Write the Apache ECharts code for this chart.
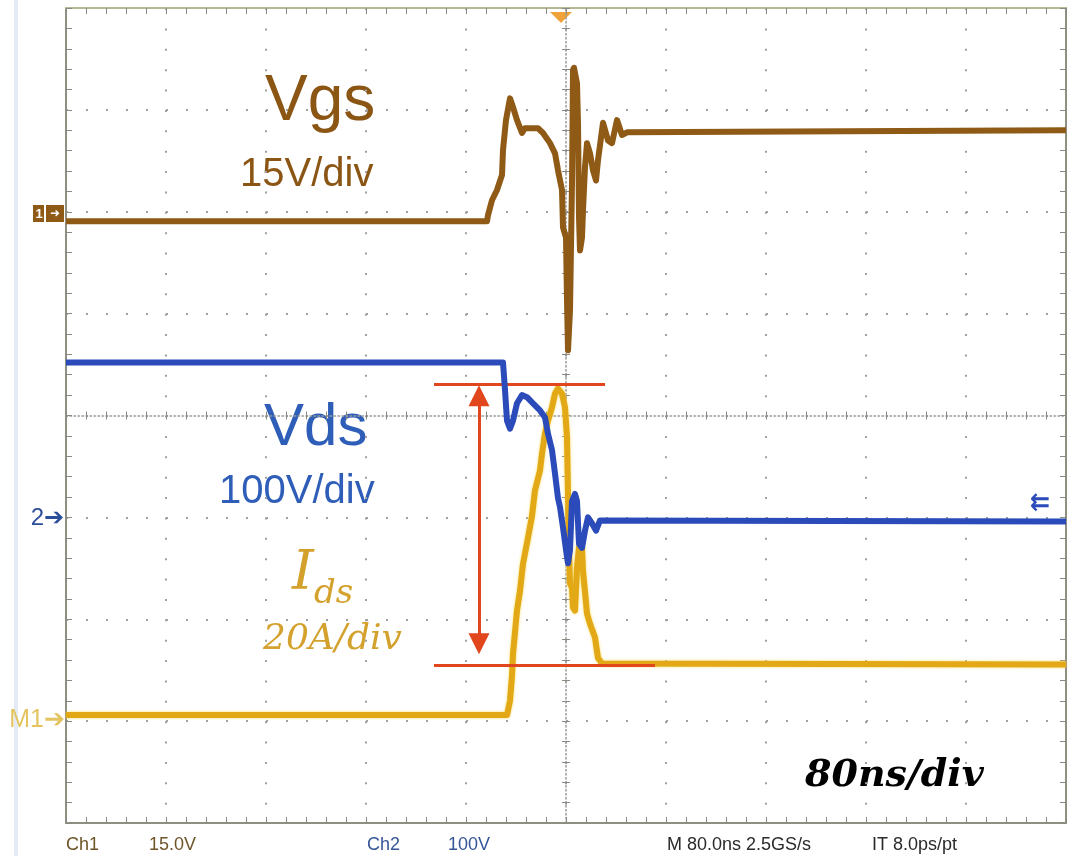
<!DOCTYPE html>
<html>
<head>
<meta charset="utf-8">
<script src="https://cdn.jsdelivr.net/npm/echarts@6/dist/echarts.min.js"></script>
<style>
html,body{margin:0;padding:0;background:#ffffff;}
#chart{width:1070px;height:856px;}
</style>
</head>
<body>
<div id="chart"></div>
<script>
// ---- time base (ns, 0 = trigger at screen centre) ----
const timeMin = -400;
const timeMax = 400;
const timePerDiv = 80;
const divMin = -4;
const divMax = 4;

// ---- channel settings: [Vgs, Vds, Ids] ----
const channelNames  = ['Vgs', 'Vds', 'Ids'];
const channelScale  = [15, 100, 20];   // units per division
const channelOffset = [2, -1, -3];     // ground marker position in divisions

// ---- Vgs (Ch1), volts ----
const vgsTime = [-400, -63.2, -62.4, -59.2, -55.2, -51.2, -50.4, -48.0, -44.8, -42.4, -39.2, -35.2, -32.8, -22.4, -18.4, -12.8, -8.8, -6.4, -3.2, -2.4, 0, 0.8, 1.6, 3.2, 4.8, 5.6, 6.4, 8.8, 9.6, 10.4, 11.2, 12.8, 13.6, 15.2, 16.8, 19.2, 21.6, 24.0, 25.6, 29.6, 33.6, 36.8, 40.8, 44.8, 48.8, 400];
const vgsVolt = [-1.4, -1.4, -0.5, 1.7, 3.2, 5.4, 9.1, 13.5, 16.7, 15.4, 13.5, 11.6, 12.3, 12.3, 11.6, 10.1, 8.6, 6.1, 3.2, -2.3, -3.8, -13.1, -20.4, -14.5, 4.2, 20.9, 21.2, 18.9, 13.1, -0.8, -5.7, -3.8, 0.2, 6.6, 10.1, 8.6, 6.1, 4.6, 7.6, 13.1, 10.5, 10.1, 13.5, 11.3, 11.7, 12.0];

// ---- Vds (Ch2), volts ----
const vdsTime = [-400, -50.4, -48.8, -47.2, -44.8, -42.4, -39.2, -35.2, -31.2, -26.4, -20.8, -16.8, -14.4, -11.2, -8.8, -6.4, -4.8, -2.4, 0.8, 1.6, 3.2, 4.8, 7.2, 8.8, 10.4, 12.8, 15.2, 17.6, 20.8, 24.0, 27.2, 400];
const vdsVolt = [152, 152, 125, 95, 87, 95, 112, 120, 118, 112, 105, 98, 82, 66, 43, 19, 10, -10, -39, -45, -32, 16, 23, 16, -26, -30, -13, 0, -6, -13, -3, -4];

// ---- Ids (M1), amperes ----
const idsTime = [-400, -47.2, -44.8, -43.2, -42.4, -39.2, -36.8, -34.4, -30.4, -27.2, -24.8, -20.8, -19.2, -16.8, -14.4, -11.2, -8.8, -6.4, -3.2, -0.8, 0.8, 2.4, 3.2, 4.8, 5.6, 7.2, 8.8, 10.4, 12.8, 13.6, 16.8, 19.2, 23.2, 25.6, 28.8, 400];
const idsAmp  = [1.2, 1.2, 4.0, 8.9, 13.2, 21.7, 25.6, 30.9, 36.0, 40.3, 45.3, 49.2, 52.5, 56.5, 59.0, 61.6, 64.3, 65.3, 64.3, 61.6, 55.7, 33.5, 27.0, 26.2, 22.3, 21.7, 30.1, 34.1, 34.1, 29.5, 21.1, 19.1, 16.4, 12.4, 11.3, 11.1];

// ---- Ids swing annotation (A, ns) ----
const spanTopLevel = 66.1;
const spanTopTime = [-105.6, 31.2];
const spanBottomLevel = 10.9;
const spanBottomTime = [-105.6, 71.2];
const spanArrowTime = -69.6;
const spanArrowEnds = [63.9, 15.2];

// ---- scope read-out texts ----
const readoutTexts = ['Ch1', '15.0V', 'Ch2', '100V', 'M 80.0ns 2.5GS/s', 'IT 8.0ps/pt'];

function toDiv(ch, v) { return channelOffset[ch] + v / channelScale[ch]; }
function buildSeries(ch, times, vals) { return times.map((t, i) => [t, toDiv(ch, vals[i])]); }

const brown = '#8E5A16';
const blue = '#2A4BB9';
const gold = '#E2A815';
const red = '#E2461C';

const tickStyle = {color: '#8a8a80', width: 1};
const baseX = {
  type: 'value', min: timeMin, max: timeMax, interval: timePerDiv,
  axisLabel: {show: false}, splitLine: {show: false},
  axisTick: {show: false}, minorTick: {show: false}, axisLine: {show: false}
};
const baseY = {
  type: 'value', min: divMin, max: divMax, interval: 1,
  axisLabel: {show: false}, splitLine: {show: false},
  axisTick: {show: false}, minorTick: {show: false}, axisLine: {show: false}
};

const option = {
  animation: false,
  backgroundColor: '#ffffff',
  grid: {left: 66, top: 8, width: 1000, height: 815, containLabel: false},
  xAxis: [
    Object.assign({}, baseX, {
      position: 'bottom',
      axisLine: {show: true, onZero: false, lineStyle: {color: '#8f8f82', width: 2}},
      axisTick: {show: true, inside: true, length: 6, lineStyle: tickStyle},
      minorTick: {show: true, splitNumber: 5, length: 6, lineStyle: tickStyle},
      splitLine: {show: true, lineStyle: {color: '#a0a0a0', width: 2, type: [2, 18.375]}}
    }),
    Object.assign({}, baseX, {
      position: 'top',
      axisLine: {show: true, onZero: false, lineStyle: {color: '#b4b894', width: 2}},
      axisTick: {show: true, inside: true, length: 6, lineStyle: tickStyle},
      minorTick: {show: true, splitNumber: 5, length: 6, lineStyle: tickStyle}
    }),
    Object.assign({}, baseX, {
      position: 'bottom',
      axisLine: {show: true, onZero: true, onZeroAxisIndex: 0, lineStyle: {color: '#9a9a9a', width: 1.5, type: [1.5, 2.5]}},
      axisTick: {show: true, inside: true, length: 4, lineStyle: tickStyle},
      minorTick: {show: true, splitNumber: 5, length: 4, lineStyle: tickStyle}
    }),
    Object.assign({}, baseX, {
      position: 'top',
      axisLine: {show: false, onZero: true, onZeroAxisIndex: 0},
      axisTick: {show: true, inside: true, length: 4, lineStyle: tickStyle},
      minorTick: {show: true, splitNumber: 5, length: 4, lineStyle: tickStyle}
    })
  ],
  yAxis: [
    Object.assign({}, baseY, {
      position: 'left',
      axisLine: {show: true, onZero: false, lineStyle: {color: '#8f8f82', width: 2}},
      axisTick: {show: true, inside: true, length: 6, lineStyle: tickStyle},
      minorTick: {show: true, splitNumber: 5, length: 6, lineStyle: tickStyle},
      splitLine: {show: true, lineStyle: {color: '#a0a0a0', width: 2, type: [2, 18]}}
    }),
    Object.assign({}, baseY, {
      position: 'right',
      axisLine: {show: true, onZero: false, lineStyle: {color: '#8f8f82', width: 2}},
      axisTick: {show: true, inside: true, length: 6, lineStyle: tickStyle},
      minorTick: {show: true, splitNumber: 5, length: 6, lineStyle: tickStyle}
    }),
    Object.assign({}, baseY, {
      position: 'left',
      axisLine: {show: true, onZero: true, onZeroAxisIndex: 0, lineStyle: {color: '#9a9a9a', width: 1.5, type: [1.5, 2.5]}},
      axisTick: {show: true, inside: true, length: 4, lineStyle: tickStyle},
      minorTick: {show: true, splitNumber: 5, length: 4, lineStyle: tickStyle}
    }),
    Object.assign({}, baseY, {
      position: 'right',
      axisLine: {show: false, onZero: true, onZeroAxisIndex: 0},
      axisTick: {show: true, inside: true, length: 4, lineStyle: tickStyle},
      minorTick: {show: true, splitNumber: 5, length: 4, lineStyle: tickStyle}
    })
  ],
  series: [
    {
      name: channelNames[0], type: 'line', xAxisIndex: 0, yAxisIndex: 0,
      data: buildSeries(0, vgsTime, vgsVolt),
      showSymbol: false, symbol: 'none', clip: true, z: 3,
      lineStyle: {color: brown, width: 6, join: 'round'}
    },
    {
      name: channelNames[2], type: 'line', xAxisIndex: 0, yAxisIndex: 0,
      data: buildSeries(2, idsTime, idsAmp),
      showSymbol: false, symbol: 'none', clip: true, z: 4,
      lineStyle: {color: gold, width: 6, join: 'round', shadowColor: 'rgba(248,220,90,0.9)', shadowBlur: 3},
      markLine: {
        silent: true, animation: false, label: {show: false},
        emphasis: {disabled: true},
        lineStyle: {color: red, width: 3, type: 'solid'},
        symbol: ['none', 'none'],
        data: [
          [{coord: [spanTopTime[0], toDiv(2, spanTopLevel)], symbol: 'none'},
           {coord: [spanTopTime[1], toDiv(2, spanTopLevel)], symbol: 'none'}],
          [{coord: [spanBottomTime[0], toDiv(2, spanBottomLevel)], symbol: 'none'},
           {coord: [spanBottomTime[1], toDiv(2, spanBottomLevel)], symbol: 'none'}],
          [{coord: [spanArrowTime, toDiv(2, spanArrowEnds[0])], symbol: 'triangle', symbolSize: 21},
           {coord: [spanArrowTime, toDiv(2, spanArrowEnds[1])], symbol: 'triangle', symbolSize: 21}]
        ]
      }
    },
    {
      name: channelNames[1], type: 'line', xAxisIndex: 0, yAxisIndex: 0,
      data: buildSeries(1, vdsTime, vdsVolt),
      showSymbol: false, symbol: 'none', clip: true, z: 5,
      lineStyle: {color: blue, width: 6, join: 'round'}
    }
  ],
  graphic: [
    {type: 'rect', shape: {x: 14, y: 0, width: 4, height: 856}, style: {fill: '#e4ebf7'}, silent: true},
    // trigger marker
    {type: 'polygon', shape: {points: [[550, 12], [572, 12], [561, 23]]}, style: {fill: '#F0A23A'}, silent: true},
    // channel ground markers
    {type: 'rect', shape: {x: 33, y: 205, width: 11, height: 17}, style: {fill: brown}, silent: true},
    {type: 'rect', shape: {x: 46, y: 205, width: 18, height: 17}, style: {fill: brown}, silent: true},
    {type: 'text', x: 39, y: 214, style: {text: '1', fill: '#ffffff', font: 'bold 13px "Liberation Sans"', textAlign: 'center', align: 'center', textVerticalAlign: 'middle', verticalAlign: 'middle'}, silent: true},
    {type: 'text', x: 55, y: 214, style: {text: '➜', fill: '#ffffff', font: 'bold 12px "DejaVu Sans"', textAlign: 'center', align: 'center', textVerticalAlign: 'middle', verticalAlign: 'middle'}, silent: true},
    {type: 'text', x: 64, y: 518, style: {text: '2➔', fill: '#2B4E9A', font: '24px "Liberation Sans"', textAlign: 'right', align: 'right', textVerticalAlign: 'middle', verticalAlign: 'middle'}, silent: true},
    {type: 'text', x: 65, y: 720, style: {text: 'M1➔', fill: '#E3C460', font: '25px "Liberation Sans"', textAlign: 'right', align: 'right', textVerticalAlign: 'middle', verticalAlign: 'middle'}, silent: true},
    {type: 'text', x: 1030, y: 504, style: {text: '⇇', fill: blue, font: 'bold 24px "DejaVu Sans"', textAlign: 'left', align: 'left', textVerticalAlign: 'middle', verticalAlign: 'middle'}, silent: true},
    // channel labels
    {type: 'text', x: 265, y: 102, style: {text: 'Vgs', fill: '#8B5514', font: '64px "Liberation Sans"', textAlign: 'left', align: 'left', textVerticalAlign: 'middle', verticalAlign: 'middle'}, silent: true},
    {type: 'text', x: 240, y: 175, style: {text: '15V/div', fill: '#8B5514', font: '40px "Liberation Sans"', textAlign: 'left', align: 'left', textVerticalAlign: 'middle', verticalAlign: 'middle'}, silent: true},
    {type: 'text', x: 264, y: 428, style: {text: 'Vds', fill: '#2F5EB8', font: '60px "Liberation Sans"', textAlign: 'left', align: 'left', textVerticalAlign: 'middle', verticalAlign: 'middle'}, silent: true},
    {type: 'text', x: 219, y: 492, style: {text: '100V/div', fill: '#2F5EB8', font: '40px "Liberation Sans"', textAlign: 'left', align: 'left', textVerticalAlign: 'middle', verticalAlign: 'middle'}, silent: true},
    {type: 'text', x: 292, y: 575, style: {text: 'I', fill: '#D3A12C', font: 'italic 55px "DejaVu Serif"', textAlign: 'left', align: 'left', textVerticalAlign: 'middle', verticalAlign: 'middle'}, silent: true},
    {type: 'text', x: 314, y: 594, style: {text: 'ds', fill: '#D3A12C', font: 'italic 34px "DejaVu Serif"', textAlign: 'left', align: 'left', textVerticalAlign: 'middle', verticalAlign: 'middle'}, silent: true},
    {type: 'text', x: 263, y: 640, style: {text: '20A/div', fill: '#D3A12C', font: 'italic 36px "DejaVu Serif"', textAlign: 'left', align: 'left', textVerticalAlign: 'middle', verticalAlign: 'middle'}, silent: true},
    {type: 'text', x: 805, y: 776, style: {text: '80ns/div', fill: '#000000', font: 'italic bold 38px "DejaVu Serif"', textAlign: 'left', align: 'left', textVerticalAlign: 'middle', verticalAlign: 'middle'}, silent: true},
    // read-out row
    {type: 'text', x: 66, y: 845, style: {text: readoutTexts[0], fill: '#6E5428', font: '18px "Liberation Sans"', textAlign: 'left', align: 'left', textVerticalAlign: 'middle', verticalAlign: 'middle'}, silent: true},
    {type: 'text', x: 149, y: 845, style: {text: readoutTexts[1], fill: '#6E5428', font: '18px "Liberation Sans"', textAlign: 'left', align: 'left', textVerticalAlign: 'middle', verticalAlign: 'middle'}, silent: true},
    {type: 'text', x: 367, y: 845, style: {text: readoutTexts[2], fill: '#355797', font: '18px "Liberation Sans"', textAlign: 'left', align: 'left', textVerticalAlign: 'middle', verticalAlign: 'middle'}, silent: true},
    {type: 'text', x: 448, y: 845, style: {text: readoutTexts[3], fill: '#355797', font: '18px "Liberation Sans"', textAlign: 'left', align: 'left', textVerticalAlign: 'middle', verticalAlign: 'middle'}, silent: true},
    {type: 'text', x: 667, y: 845, style: {text: readoutTexts[4], fill: '#2a2a2a', font: '18px "Liberation Sans"', textAlign: 'left', align: 'left', textVerticalAlign: 'middle', verticalAlign: 'middle'}, silent: true},
    {type: 'text', x: 872, y: 845, style: {text: readoutTexts[5], fill: '#2a2a2a', font: '18px "Liberation Sans"', textAlign: 'left', align: 'left', textVerticalAlign: 'middle', verticalAlign: 'middle'}, silent: true}
  ]
};

const chart = echarts.init(document.getElementById('chart'), null, {renderer: 'canvas'});
chart.setOption(option);
</script>
</body>
</html>
